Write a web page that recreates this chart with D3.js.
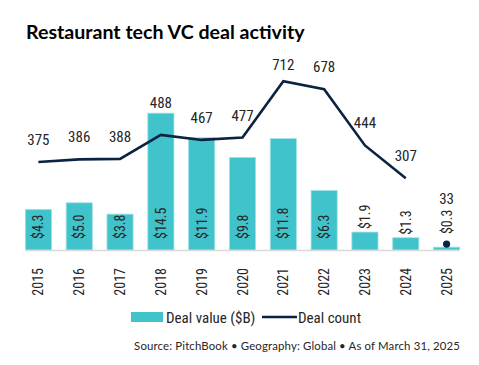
<!DOCTYPE html>
<html>
<head>
<meta charset="utf-8">
<script src="https://cdn.jsdelivr.net/npm/d3@7"></script>
<style>
  body { margin: 0; background: #fff; }
  svg text { fill: #262626; }
</style>
</head>
<body>
<div id="chart"></div>
<script>
// data
var years = ["2015", "2016", "2017", "2018", "2019", "2020", "2021", "2022", "2023", "2024", "2025"];
var dealValue = [4.3, 5.0, 3.8, 14.5, 11.9, 9.8, 11.8, 6.3, 1.9, 1.3, 0.3];
var dealCount = [375, 386, 388, 488, 467, 477, 712, 678, 444, 307, 33];

var width = 479, height = 365;
var teal = "#40c3cb", navy = "#0b2341";
var narrow = "'Liberation Sans Narrow', 'Roboto Condensed', 'Liberation Sans', sans-serif";

var svg = d3.select("#chart")
            .append("svg")
            .attr("width", width)
            .attr("height", height);

// title
svg.append("text")
   .attr("x", 26)
   .attr("y", 39)
   .text("Restaurant tech VC deal activity")
   .attr("font-family", "Lato")
   .attr("font-weight", 700)
   .attr("font-size", "19.6px")
   .style("fill", "#000");

// scales
var x = d3.scaleBand().domain(years).range([18, 467]).paddingInner(0.36).paddingOuter(0.18);
var yVal = d3.scaleLinear().domain([0, 16]).range([250, 99]);
var yCnt = d3.scaleLinear().domain([0, 800]).range([252, 60]);
var cx = function(i){ return x(years[i]) + x.bandwidth()/2; };

// bars
svg.selectAll("rect.bar")
   .data(dealValue)
   .enter().append("rect")
   .attr("class", "bar")
   .attr("x", function(d, i){ return x(years[i]); })
   .attr("y", function(d){ return yVal(d); })
   .attr("width", x.bandwidth())
   .attr("height", function(d){ return yVal(0) - yVal(d); })
   .attr("fill", teal)
   .attr("stroke", "#9fe0e4")
   .attr("stroke-width", 0.8);

// baseline
svg.append("line")
   .attr("x1", x(years[0])).attr("x2", x(years[years.length-1]) + x.bandwidth())
   .attr("y1", 250.5).attr("y2", 250.5)
   .attr("stroke", "#d9d9d9").attr("stroke-width", 1.5);

// where the value label starts (bottom end of the rotated text)
var small = function(d){ return yVal(0) - yVal(d) < 30; };
var lastIdx = years.length - 1;
var valStart = function(d, i){
   if (!small(d)) return 239;
   var s = yVal(d) - 3;
   if (i === lastIdx) s = Math.min(s, yCnt(dealCount[i]) - 10);
   return s;
};

svg.selectAll("text.val")
   .data(dealValue)
   .enter().append("text")
   .attr("class", "val")
   .attr("transform", function(d, i){
      return "translate(" + (cx(i) + 5) + "," + valStart(d, i) + ") rotate(-90)";
   })
   .text(function(d){ return "$" + d.toFixed(1); })
   .attr("font-family", narrow)
   .attr("font-size", "14px");

// deal count line (2015-2024), 2025 as a lone dot
var line = d3.line()
   .x(function(d, i){ return cx(i); })
   .y(function(d){ return yCnt(d); });

svg.append("path")
   .datum(dealCount.slice(0, lastIdx))
   .attr("d", line)
   .attr("fill", "none")
   .attr("stroke", navy)
   .attr("stroke-width", 2.6)
   .attr("stroke-linejoin", "miter");

svg.append("circle")
   .attr("cx", cx(lastIdx))
   .attr("cy", yCnt(dealCount[lastIdx]))
   .attr("r", 3.6)
   .attr("fill", navy);

// count labels
svg.selectAll("text.cnt")
   .data(dealCount)
   .enter().append("text")
   .attr("class", "cnt")
   .attr("x", function(d, i){ return cx(i); })
   .attr("y", function(d, i){
      var v = dealValue[i];
      var yy;
      if (small(v)) yy = Math.min(yCnt(d) - 17, valStart(v, i) - 30);
      else yy = Math.min(yCnt(d) - 17, yVal(v) - 5);
      return Math.max(70, yy);
   })
   .text(function(d){ return d; })
   .attr("text-anchor", "middle")
   .attr("font-family", narrow)
   .attr("font-size", "15px");

// x axis labels
svg.selectAll("text.year")
   .data(years)
   .enter().append("text")
   .attr("class", "year")
   .attr("transform", function(d, i){ return "translate(" + (cx(i) + 5) + ",268) rotate(-90)"; })
   .text(function(d){ return d; })
   .attr("text-anchor", "end")
   .attr("font-family", narrow)
   .attr("font-size", "14px");

// legend
svg.append("rect")
   .attr("x", 131).attr("y", 312)
   .attr("width", 32).attr("height", 10)
   .attr("fill", teal);
svg.append("text")
   .attr("x", 166).attr("y", 323)
   .text("Deal value ($B)")
   .attr("font-family", narrow)
   .attr("font-size", "15px");
svg.append("line")
   .attr("x1", 262).attr("x2", 297)
   .attr("y1", 317).attr("y2", 317)
   .attr("stroke", navy).attr("stroke-width", 2.6);
svg.append("text")
   .attr("x", 298).attr("y", 323)
   .text("Deal count")
   .attr("font-family", narrow)
   .attr("font-size", "15px");

// source
svg.append("text")
   .attr("x", 460).attr("y", 350)
   .attr("text-anchor", "end")
   .text("Source: PitchBook  \u2022  Geography: Global  \u2022  As of March 31, 2025")
   .attr("font-family", "Lato")
   .attr("font-size", "11.4px")
   .attr("letter-spacing", "0.15px");
</script>
</body>
</html>
